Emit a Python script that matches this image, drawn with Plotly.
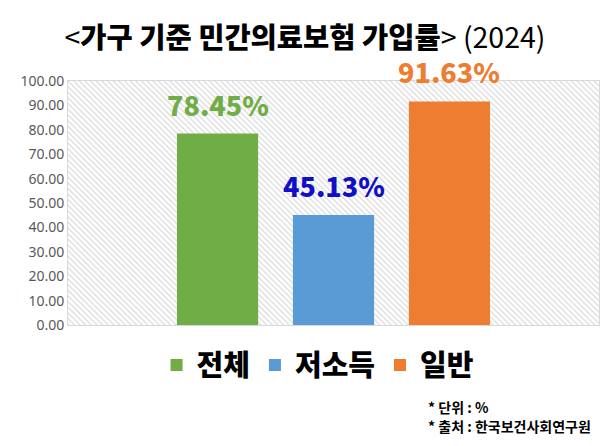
import plotly.graph_objects as go

# 가구 기준 민간의료보험 가입률 (2024), 단위: %
groups = ["전체", "저소득", "일반"]
rates = [78.45, 45.13, 91.63]
bar_colors = ["#70ad47", "#5b9bd5", "#ed7d31"]
label_colors = ["#70ad47", "#1010c8", "#ed7d31"]
y_ticks = [0, 10, 20, 30, 40, 50, 60, 70, 80, 90, 100]

FONT = "Noto Sans CJK KR"

fig = go.Figure()

# hatched plot background (unit square on the base axes)
fig.add_trace(go.Scatter(
    x=[0, 1, 1, 0, 0], y=[0, 0, 1, 1, 0],
    fill="toself", mode="none", hoverinfo="skip", showlegend=False,
    fillcolor="white",
    fillpattern=dict(shape="\\", fgcolor="#b4b4b4", bgcolor="white",
                     size=4, solidity=0.3),
    xaxis="x", yaxis="y",
))

for g, v, c in zip(groups, rates, bar_colors):
    fig.add_trace(go.Bar(
        x=[g], y=[v], name=g, marker=dict(color=c, line=dict(width=0)),
        width=0.7, xaxis="x2", yaxis="y2",
    ))

for g, v, c in zip(groups, rates, label_colors):
    fig.add_annotation(
        x=g, y=v, xref="x2", yref="y2",
        text=f"<span style='font-weight:900'>{v:.2f}%</span>",
        showarrow=False, yanchor="bottom", yshift=8,
        font=dict(family=FONT, size=27, color=c),
    )

# page body has an 8px margin, so the figure is laid out 8px up/left
fig.update_layout(
    width=611, height=446,
    margin=dict(l=55, r=20, t=73, b=129),
    paper_bgcolor="white", plot_bgcolor="white",
    barmode="overlay",
    showlegend=True,
    title=dict(
        text="&lt;<span style='font-weight:900'>가구 기준 민간의료보험 가입률</span>&gt; (2024)",
        x=0.486, xref="container", xanchor="center",
        y=0.933, yref="container", yanchor="middle",
        font=dict(family=FONT, size=28.5, color="black"),
    ),
    legend=dict(
        orientation="h", x=0.47, xanchor="center", y=-0.165, yanchor="middle",
        font=dict(family=FONT, size=29, color="black", weight=900),
        itemsizing="constant",
    ),
    xaxis=dict(range=[0, 1], visible=False, fixedrange=True),
    yaxis=dict(range=[0, 1], visible=False, fixedrange=True),
    xaxis2=dict(
        overlaying="x", anchor="y2", type="category",
        range=[-1.29, 3.29], showticklabels=False, showgrid=False,
        showline=True, mirror=True, linecolor="#d9d9d9", linewidth=1,
        ticks="", zeroline=False,
    ),
    yaxis2=dict(
        overlaying="y", anchor="x2", range=[0, 100],
        tickvals=y_ticks, tickformat=".2f",
        showgrid=True, gridcolor="#d9d9d9", gridwidth=1,
        showline=True, mirror=True, linecolor="#d9d9d9", linewidth=1,
        zeroline=False, ticks="", ticklen=0,
        tickfont=dict(family="Noto Sans", size=14, color="#595959"),
    ),
)

fig.add_annotation(
    x=0.675, y=-0.335, xref="paper", yref="paper", xanchor="left", yanchor="middle",
    text="<b>* 단위 : %</b>", showarrow=False,
    font=dict(family=FONT, size=14, color="black"),
)
fig.add_annotation(
    x=0.675, y=-0.415, xref="paper", yref="paper", xanchor="left", yanchor="middle",
    text="<b>* 출처 : 한국보건사회연구원</b>", showarrow=False,
    font=dict(family=FONT, size=14, color="black"),
)

fig.write_html("out.html")
